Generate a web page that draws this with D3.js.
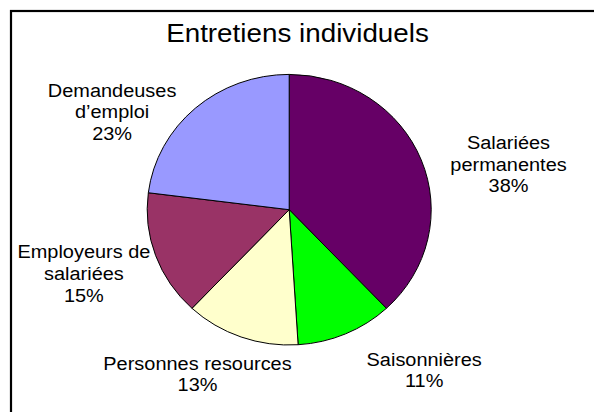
<!DOCTYPE html>
<html>
<head>
<meta charset="utf-8">
<script src="https://cdn.jsdelivr.net/npm/d3@7"></script>
<style>
  html, body { margin: 0; padding: 0; background: #fff; }
  svg { display: block; }
  text { font-family: "Liberation Sans", Arial, sans-serif; fill: #000; }
</style>
</head>
<body>
<svg id="chart" width="594" height="412"></svg>
<script>
// ---- data ----
const title = "Entretiens individuels";
const categories = ["Salariées permanentes", "Saisonnières", "Personnes resources", "Employeurs de salariées", "Demandeuses d’emploi"];
const labelLines = [["Salariées", "permanentes"], ["Saisonnières"], ["Personnes resources"], ["Employeurs de", "salariées"], ["Demandeuses", "d’emploi"]];
const values = [38, 11, 13, 15, 23];
const colors = ["#660066", "#00FF00", "#FFFFCC", "#993366", "#9999FF"];

// ---- layout ----
const W = 594, H = 412;
const cx = 289.2, cy = 209.7, rx = 142, ry = 135.3;
const stretch = rx / ry;
const labelAnchors = [[508.5, 149], [424.2, 365.7], [197.5, 369.6], [83.9, 258.3], [112.1, 96.7]];
const lineGap = 21.7;
const labelFont = 19;
const titleFont = 26.5;

const svg = d3.select("#chart");

// frame (only top and left edges fall inside the picture)
svg.append("rect")
  .attr("x", 11).attr("y", 11)
  .attr("width", W + 20).attr("height", H + 20)
  .attr("fill", "#fff").attr("stroke", "#000").attr("stroke-width", 2.2);

// title
svg.append("text")
  .attr("transform", `translate(297.5,42.3) scale(${stretch},1)`)
  .attr("text-anchor", "middle")
  .attr("font-size", titleFont)
  .text(title);

// pie
const pie = d3.pie().value(d => d).sort(null);
const arcs = pie(values);
const arc = d3.arc().innerRadius(0).outerRadius(ry);
const g = svg.append("g").attr("transform", `translate(${cx},${cy}) scale(${stretch},1)`);
g.selectAll("path")
  .data(arcs)
  .join("path")
  .attr("d", arc)
  .attr("fill", (d, i) => colors[i])
  .attr("stroke", "#000")
  .attr("stroke-width", 1)
  .attr("vector-effect", "non-scaling-stroke");

// labels
const total = d3.sum(values);
const pct = d3.format(".0%");
arcs.forEach((a, i) => {
  const lines = labelLines[i].concat([pct(values[i] / total)]);
  const [lx, ly] = labelAnchors[i];
  const t = svg.append("text")
    .attr("transform", `translate(${lx},${ly}) scale(${stretch},1)`)
    .attr("text-anchor", "middle")
    .attr("font-size", labelFont);
  lines.forEach((s, k) => {
    t.append("tspan").attr("x", 0).attr("y", k * lineGap).text(s);
  });
});
</script>
</body>
</html>
